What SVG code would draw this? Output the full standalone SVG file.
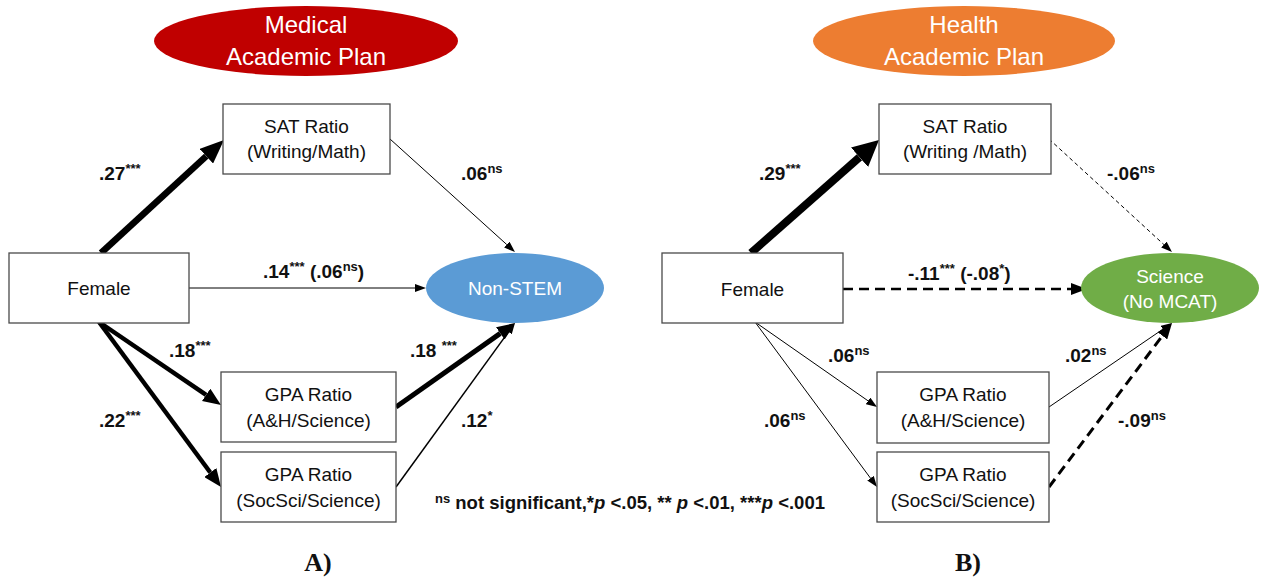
<svg xmlns="http://www.w3.org/2000/svg" width="1262" height="577" viewBox="0 0 1262 577">
  <style>
    .box { fill: #ffffff; stroke: #4a4a4a; stroke-width: 1.3; }
    .nt { font-family: "Liberation Sans", Arial, sans-serif; font-size: 19px; fill: #111; text-anchor: middle; }
    .et { font-family: "Liberation Sans", Arial, sans-serif; font-size: 19px; fill: #ffffff; text-anchor: middle; }
    .pt { font-family: "Liberation Sans", Arial, sans-serif; font-size: 24px; fill: #ffffff; text-anchor: middle; }
    .lb { font-family: "Liberation Sans", Arial, sans-serif; font-size: 19px; font-weight: bold; fill: #111; }
    .sup { font-size: 13px; }
    .fn { font-family: "Liberation Sans", Arial, sans-serif; font-size: 18.5px; font-weight: bold; fill: #111; }
    .pl { font-family: "Liberation Serif", "Times New Roman", serif; font-size: 26px; font-weight: bold; fill: #111; text-anchor: middle; }
    .c { fill: none; stroke: #000; }
  </style>
  <defs>
    <marker id="h-xl" markerUnits="userSpaceOnUse" markerWidth="26" markerHeight="26" viewBox="0 0 26 26" refX="0" refY="13" orient="auto">
      <path d="M0,0 L26,13 L0,26 Z" fill="#000"/>
    </marker>
    <marker id="h-lg" markerUnits="userSpaceOnUse" markerWidth="24" markerHeight="20" viewBox="0 0 24 20" refX="0" refY="10" orient="auto">
      <path d="M0,0 L24,10 L0,20 Z" fill="#000"/>
    </marker>
    <marker id="h-md" markerUnits="userSpaceOnUse" markerWidth="18" markerHeight="15" viewBox="0 0 18 15" refX="0" refY="7.5" orient="auto">
      <path d="M0,0 L18,7.5 L0,15 Z" fill="#000"/>
    </marker>
    <marker id="h-dm" markerUnits="userSpaceOnUse" markerWidth="16" markerHeight="12" viewBox="0 0 16 12" refX="0" refY="6" orient="auto">
      <path d="M0,0 L16,6 L0,12 Z" fill="#000"/>
    </marker>
    <marker id="h-sm" markerUnits="userSpaceOnUse" markerWidth="11" markerHeight="8" viewBox="0 0 11 8" refX="0" refY="4" orient="auto">
      <path d="M0,0 L11,4 L0,8 Z" fill="#000"/>
    </marker>
  </defs>

  <!-- connectors: each line stops at the base of its head -->
  <g id="connectors">
    <!-- panel A -->
    <line class="c" x1="101" y1="253" x2="206.3" y2="156.2" stroke-width="6.5" marker-end="url(#h-lg)"/>
    <line class="c" x1="390" y1="139" x2="506.8" y2="244.6" stroke-width="1" marker-end="url(#h-sm)"/>
    <line class="c" x1="189" y1="288" x2="415" y2="288" stroke-width="1" marker-end="url(#h-sm)"/>
    <line class="c" x1="99" y1="322" x2="206.1" y2="394.9" stroke-width="4.5" marker-end="url(#h-md)"/>
    <line class="c" x1="99" y1="322" x2="210.3" y2="472.5" stroke-width="4.5" marker-end="url(#h-md)"/>
    <line class="c" x1="396" y1="407" x2="500.3" y2="333.4" stroke-width="5" marker-end="url(#h-md)"/>
    <line class="c" x1="396" y1="487" x2="508.5" y2="331.9" stroke-width="1.5" marker-end="url(#h-sm)"/>
    <!-- panel B -->
    <line class="c" x1="751" y1="253" x2="859.5" y2="157.2" stroke-width="8" marker-end="url(#h-xl)"/>
    <line class="c" x1="1049" y1="139" x2="1163.9" y2="244.6" stroke-width="1" stroke-dasharray="4 3" marker-end="url(#h-sm)"/>
    <line class="c" x1="843" y1="289" x2="1071" y2="289" stroke-width="2.5" stroke-dasharray="10 6" marker-end="url(#h-dm)"/>
    <line class="c" x1="755" y1="322" x2="868" y2="400.8" stroke-width="1" marker-end="url(#h-sm)"/>
    <line class="c" x1="755" y1="322" x2="870.5" y2="478.2" stroke-width="1" marker-end="url(#h-sm)"/>
    <line class="c" x1="1049" y1="407" x2="1162.9" y2="329.2" stroke-width="1" marker-end="url(#h-sm)"/>
    <line class="c" x1="1049" y1="487" x2="1162.4" y2="335.8" stroke-width="3" stroke-dasharray="10 6" marker-end="url(#h-dm)"/>
  </g>

  <!-- panel A nodes -->
  <g id="medical-plan">
    <ellipse cx="306" cy="41" rx="152" ry="35" fill="#C00000"/>
    <text class="pt" x="306" y="33">Medical</text>
    <text class="pt" x="306" y="65">Academic Plan</text>
  </g>
  <g id="a-sat">
    <rect class="box" x="223" y="104" width="167" height="70"/>
    <text class="nt" x="306.5" y="133">SAT Ratio</text>
    <text class="nt" x="306.5" y="158">(Writing/Math)</text>
  </g>
  <g id="a-female">
    <rect class="box" x="9" y="253" width="180" height="70"/>
    <text class="nt" x="99" y="295">Female</text>
  </g>
  <g id="a-nonstem">
    <ellipse cx="515" cy="288" rx="89" ry="35" fill="#5B9BD5"/>
    <text class="et" x="515" y="295">Non-STEM</text>
  </g>
  <g id="a-gpa-ah">
    <rect class="box" x="221" y="372" width="175" height="70"/>
    <text class="nt" x="308.5" y="401">GPA Ratio</text>
    <text class="nt" x="308.5" y="427">(A&amp;H/Science)</text>
  </g>
  <g id="a-gpa-ss">
    <rect class="box" x="221" y="452" width="175" height="70"/>
    <text class="nt" x="308.5" y="481">GPA Ratio</text>
    <text class="nt" x="308.5" y="507">(SocSci/Science)</text>
  </g>

  <!-- panel B nodes -->
  <g id="health-plan">
    <ellipse cx="964" cy="41" rx="151" ry="35" fill="#ED7D31"/>
    <text class="pt" x="964" y="33">Health</text>
    <text class="pt" x="964" y="65">Academic Plan</text>
  </g>
  <g id="b-sat">
    <rect class="box" x="879" y="104" width="172" height="70"/>
    <text class="nt" x="965" y="133">SAT Ratio</text>
    <text class="nt" x="965" y="158">(Writing /Math)</text>
  </g>
  <g id="b-female">
    <rect class="box" x="662" y="253" width="181" height="70"/>
    <text class="nt" x="752.5" y="296">Female</text>
  </g>
  <g id="b-science">
    <ellipse cx="1170" cy="288" rx="89" ry="35" fill="#70AD47"/>
    <text class="et" x="1170" y="283">Science</text>
    <text class="et" x="1170" y="308">(No MCAT)</text>
  </g>
  <g id="b-gpa-ah">
    <rect class="box" x="877" y="372" width="172" height="71"/>
    <text class="nt" x="963" y="401">GPA Ratio</text>
    <text class="nt" x="963" y="427">(A&amp;H/Science)</text>
  </g>
  <g id="b-gpa-ss">
    <rect class="box" x="877" y="452" width="172" height="70"/>
    <text class="nt" x="963" y="481">GPA Ratio</text>
    <text class="nt" x="963" y="507">(SocSci/Science)</text>
  </g>

  <!-- path coefficients -->
  <g id="labels">
    <text class="lb" x="99" y="180">.27<tspan class="sup" dy="-7">***</tspan></text>
    <text class="lb" x="461" y="180">.06<tspan class="sup" dy="-7">ns</tspan></text>
    <text class="lb" x="263" y="278">.14<tspan class="sup" dy="-7">***</tspan><tspan dy="7"> (.06</tspan><tspan class="sup" dy="-7">ns</tspan><tspan dy="7">)</tspan></text>
    <text class="lb" x="169" y="357">.18<tspan class="sup" dy="-7">***</tspan></text>
    <text class="lb" x="410" y="357">.18 <tspan class="sup" dy="-7">***</tspan></text>
    <text class="lb" x="99" y="427">.22<tspan class="sup" dy="-7">***</tspan></text>
    <text class="lb" x="461" y="427">.12<tspan class="sup" dy="-7">*</tspan></text>

    <text class="lb" x="759" y="180">.29<tspan class="sup" dy="-7">***</tspan></text>
    <text class="lb" x="1107" y="180">-.06<tspan class="sup" dy="-7">ns</tspan></text>
    <text class="lb" x="908" y="280">-.11<tspan class="sup" dy="-7">***</tspan><tspan dy="7"> (-.08</tspan><tspan class="sup" dy="-7">*</tspan><tspan dy="7">)</tspan></text>
    <text class="lb" x="828" y="362">.06<tspan class="sup" dy="-7">ns</tspan></text>
    <text class="lb" x="1065" y="362">.02<tspan class="sup" dy="-7">ns</tspan></text>
    <text class="lb" x="764" y="427">.06<tspan class="sup" dy="-7">ns</tspan></text>
    <text class="lb" x="1118" y="427">-.09<tspan class="sup" dy="-7">ns</tspan></text>
  </g>

  <!-- significance key and panel letters -->
  <g id="legend">
    <text class="fn" x="435" y="509"><tspan class="sup" dy="-6">ns</tspan><tspan dy="6"> not significant,*</tspan><tspan font-style="italic">p</tspan> &lt;.05, ** <tspan font-style="italic">p</tspan> &lt;.01, ***<tspan font-style="italic">p</tspan> &lt;.001</text>
    <text class="pl" x="318" y="571">A)</text>
    <text class="pl" x="968" y="571">B)</text>
  </g>
</svg>
